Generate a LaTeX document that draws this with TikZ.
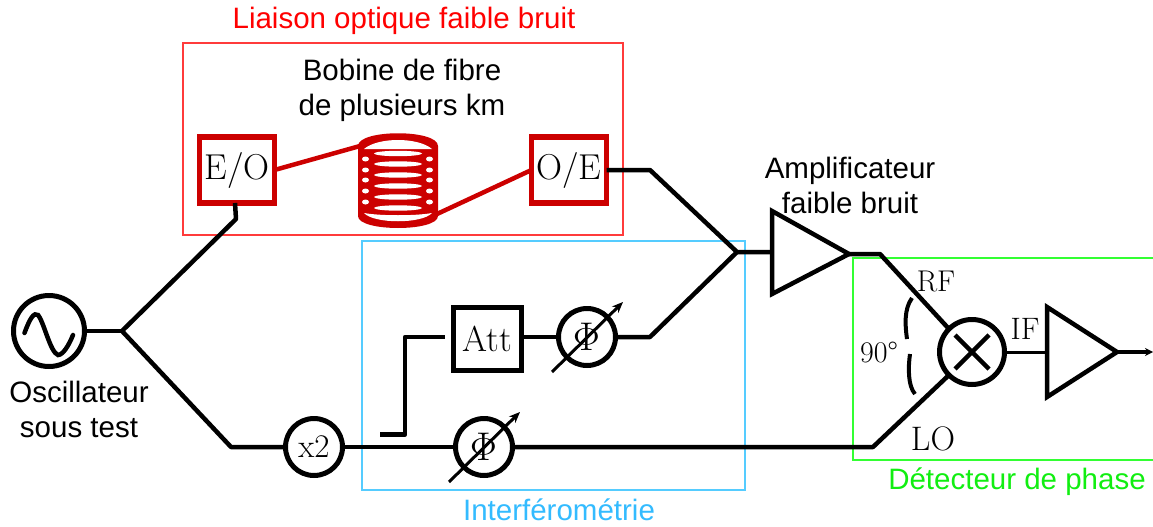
\documentclass[tikz,border=0pt]{standalone}
\usepackage{fontspec}
\setsansfont{Liberation Sans}
\usetikzlibrary{arrows.meta}
\definecolor{boxred}{HTML}{FF3B3B}
\definecolor{darkred}{HTML}{CC0000}
\definecolor{boxblue}{HTML}{55CCFF}
\definecolor{titleblue}{HTML}{33BBFF}
\definecolor{boxgreen}{HTML}{33FF33}
\definecolor{titlegreen}{HTML}{11EE11}
\tikzset{
  wire/.style={line width=4.5pt,black,line join=round},
  thinwire/.style={line width=3pt,black},
  frame/.style={line width=1.6pt},
  ring/.style={circle,draw=black,line width=5pt,inner sep=0pt,outer sep=0pt,fill=white},
  redbox/.style={draw=darkred,line width=5.5pt,outer sep=0pt,minimum width=75pt,minimum height=66pt,inner sep=0pt,font=\fontsize{36}{38}\selectfont},
  serif/.style={font=\fontsize{#1}{#1}\selectfont,inner sep=0pt},
  sans/.style={font=\sffamily\fontsize{#1}{35}\selectfont,align=center,inner sep=0pt},
  slit/.style={fill=white,draw=none},
  tune/.style={line width=3pt,-{Stealth[length=11pt,width=9pt]}},
  amp/.style={line width=4.5pt,line join=miter,fill=white},
}
\begin{document}
\begin{tikzpicture}[x=1pt,y=-1pt]
\useasboundingbox (0,0) rectangle (1153,527);
% frames
\draw[frame,boxred] (183,43) rectangle (623,235);
\draw[frame,boxblue] (362,241) rectangle (745,490);
\draw[frame,boxgreen] (853,258) rectangle (1156,460);
% titles
\node[sans=29.5,text=red] (t1) at (404,21) {Liaison optique faible bruit};
\node[sans=29.5,text=titleblue] (t2) at (559,510) {Interférométrie};
\node[sans=29.5,text=titlegreen] (t3) at (1017,482) {Détecteur de phase};
\node[sans=29.5] (t4) at (402,90) {Bobine de fibre\\de plusieurs km};
\node[sans=29.5] (t5) at (850,185) {Amplificateur\\faible bruit};
\node[sans=29.5] (t6) at (79,409) {Oscillateur\\sous test};
% coil
\fill[darkred] (358,146) .. controls (358,129) and (438,129) .. (438,146)
  -- (438,216) .. controls (438,232) and (358,232) .. (358,216) -- cycle;
\fill[slit] (364,149) .. controls (378,137) and (418,137) .. (432,149)
  .. controls (416,149) and (380,149) .. (364,149) -- cycle;
\fill[slit] (364,213) .. controls (380,216) and (416,216) .. (432,213)
  .. controls (422,224) and (374,224) .. (364,213) -- cycle;
\foreach \yy in {153.5,164,175,186,197,208}
  \fill[slit] (398,\yy) ellipse (24 and 2.7);
\foreach \yy in {159,170,180,191,202}{
  \fill[slit] (365.5,\yy) ellipse (3.5 and 2.5);
  \fill[slit] (429.5,\yy) ellipse (3.5 and 2.5);
}
\coordinate (coilL) at (360,146);
\coordinate (coilR) at (437,214);
% nodes
\node[redbox] (eo) at (237,170) {E/O};
\node[redbox] (oe) at (569,170) {O/E};
\node[ring,minimum size=71pt] (osc) at (49,331) {};
\node[ring,minimum size=57pt,font=\fontsize{33}{33}\selectfont] (x2) at (314,447) {x2};
\node[ring,minimum size=57pt,font=\fontsize{40}{40}\selectfont] (ph1) at (587,337) {Φ};
\node[ring,minimum size=57pt,font=\fontsize{40}{40}\selectfont] (ph2) at (484,447) {Φ};
\node[draw,line width=5pt,outer sep=0pt,minimum width=68pt,minimum height=63pt,inner sep=0pt,font=\fontsize{36}{36}\selectfont] (att) at (487.5,339) {Att};
\node[ring,minimum size=65pt] (mix) at (972,352) {};
% junctions
\coordinate (split) at (122,331);
\coordinate (up1) at (236,219);
\coordinate (dn1) at (231,447);
\coordinate (oe1) at (650,170);
\coordinate (ph1r) at (650,337);
\coordinate (sum) at (737,252);
\coordinate (ampin) at (772,252);
\coordinate (ampT) at (772,211);
\coordinate (ampB) at (772,294);
\coordinate (ampO) at (849,254);
\coordinate (rf1) at (880,254);
\coordinate (lo1) at (873,447);
\coordinate (iniT) at (1047,307);
\coordinate (iniB) at (1047,397);
\coordinate (iniO) at (1117,352);
\coordinate (iniI) at (1047,352);
\coordinate (out) at (1153,352);
\coordinate (stubA) at (380,434.5);
\coordinate (stubB) at (405,434.5);
\coordinate (stubC) at (405,337);
\coordinate (stubD) at (445,337);
\coordinate (ar1a) at (552,372);
\coordinate (ar1b) at (623,302);
\coordinate (ar2a) at (449,482);
\coordinate (ar2b) at (520,412);
% red fibres
\draw[darkred,line width=4.5pt] (eo.east) -- (coilL);
\draw[darkred,line width=4.5pt] (coilR) -- (oe.west);
% wires
\draw[wire] (osc.east) -- (split);
\draw[wire] (eo.south) ++(-2,0) -- (up1) -- (split) -- (dn1) -- (x2.west);
\draw[wire] (x2.east) -- (ph2.west);
\draw[wire] (ph2.east) -- (lo1) -- (mix.225);
\draw[wire] (oe.east) -- (oe1) -- (sum) -- (ampin);
\draw[wire] (ph1.east) -- (ph1r) -- (sum);
\draw[wire] (stubA) -- (stubB) -- (stubC) -- (stubD);
\draw[wire] (att.east |- ph1.west) -- (ph1.west);
\draw[wire] (ampO) -- (rf1) -- (mix.135);
\draw[thinwire] (mix.east) -- (iniI);
\draw[wire,line width=3.5pt,-{Stealth[length=8pt,width=8pt]}] (iniO) -- (out);
% amplifiers
\draw[amp] (ampT) -- (ampO) -- (ampB) -- cycle;
\draw[amp] (iniT) -- (iniO) -- (iniB) -- cycle;
% tuning arrows
\draw[tune] (ar1a) -- (ar1b);
\draw[tune] (ar2a) -- (ar2b);
% mixer cross
\draw[line width=4.5pt] (mix.center) ++(-17,-17) -- ++(34,34);
\draw[line width=4.5pt] (mix.center) ++(17,-17) -- ++(-34,34);
% oscillator sine
\draw[line width=4.5pt,line cap=round] (24.5,333) .. controls (30,318) and (34,312) .. (38,315)
  .. controls (44,322) and (50,352) .. (58,355) .. controls (63,355) and (69,345) .. (73,335);
% 90 degree arcs
\draw[line width=4pt] (912,298) .. controls (904,309) and (905,325) .. (907,339);
\draw[line width=4pt] (910,354) .. controls (908,368) and (908,386) .. (915,394);
% labels
\node[serif=30] (rf) at (936,281) {RF};
\node[serif=34] (lo) at (933,439) {LO};
\node[serif=31] (if) at (1025,329) {IF};
\node[serif=30] (deg) at (879,352) {90°};
\end{tikzpicture}
\end{document}
